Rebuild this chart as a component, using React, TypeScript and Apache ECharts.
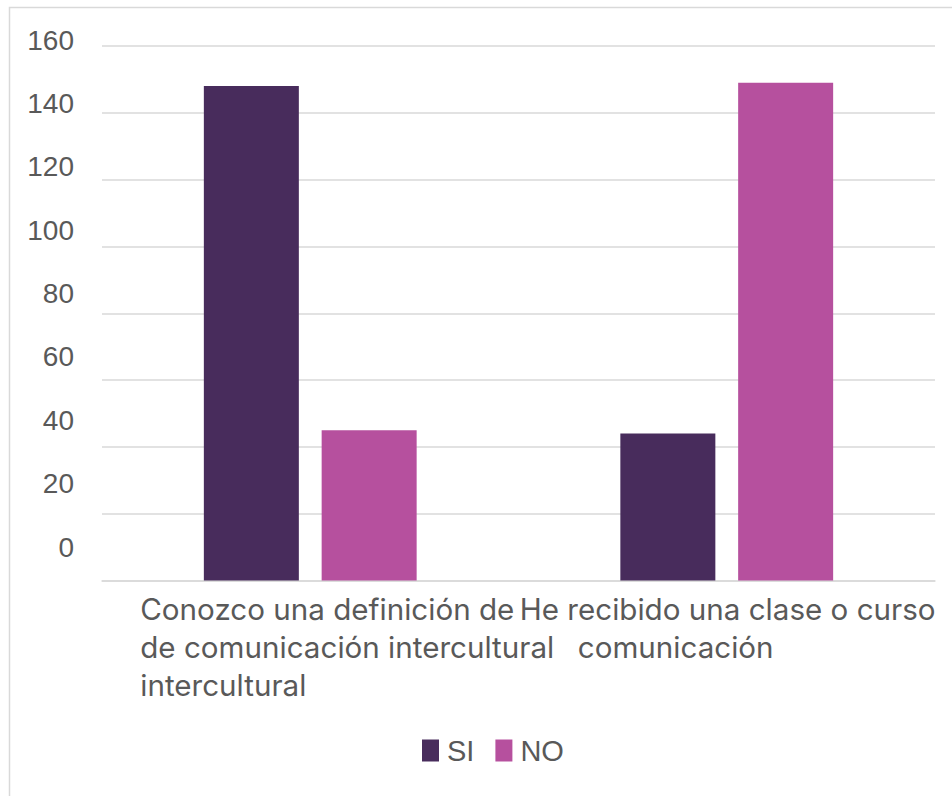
import React, { useEffect, useRef } from "react";
import * as echarts from "echarts";

const categories = ["Conozco una definición de comunicación intercultural", "He recibido una clase o curso de comunicación intercultural"];
const categoryLines: string[][] = [
  ["Conozco una definición de", "de comunicación intercultural", "intercultural"],
  ["He recibido una clase o curso", "comunicación"],
];
const seriesNames = ["SI", "NO"];
const siValues = [148, 44];
const noValues = [45, 149];
const yTicks = { min: 0, max: 160, interval: 20 };

const TEXT = "#595959";
const GRID = "#d9d9d9";
const CAT_FONT = "Inter";
const CAT_SIZE = 29.6;

export default function App() {
  const ref = useRef<HTMLDivElement>(null);
  useEffect(() => {
    if (!ref.current) return;
    const chart = echarts.init(ref.current, null, { renderer: "svg" });
    const tok = (pad: number) => ({
      padding: [0, 0, 0, pad],
      color: TEXT,
      fontSize: CAT_SIZE,
      fontFamily: CAT_FONT,
      lineHeight: 38,
    });
    chart.setOption({
      animation: false,
      backgroundColor: "#ffffff",
      graphic: [
        {
          type: "rect",
          shape: { x: 9.5, y: 7.5, width: 1000, height: 1000 },
          style: { fill: "none", stroke: GRID, lineWidth: 1.5 },
          silent: true,
          z: -1,
        },
      ],
      grid: [
        { left: 102, right: 17, top: 46, bottom: 215.5 },
        { left: 82, right: 17, top: 40, bottom: 249 },
      ],
      legend: {
        data: seriesNames,
        left: 422,
        top: 736,
        padding: 0,
        itemWidth: 17,
        itemHeight: 22,
        itemGap: 21,
        icon: "rect",
        textStyle: { color: TEXT, fontSize: 29, fontFamily: "Liberation Sans", padding: [0, 0, 0, 3] },
      },
      xAxis: [
        {
          type: "category",
          gridIndex: 0,
          data: categories,
          axisLine: { show: true, lineStyle: { color: GRID, width: 1.5 } },
          axisTick: { show: false },
          axisLabel: {
            interval: 0,
            margin: 9,
            align: "left",
            verticalAlign: "top",
            color: TEXT,
            fontSize: CAT_SIZE,
            fontFamily: CAT_FONT,
            lineHeight: 38,
            formatter: (_v: string, idx: number) => {
              const lines = categoryLines[idx];
              if (idx === 0) return lines.map((l) => `{a|${l}}`).join("\n");
              return `{b|${lines[0]}}\n{c|${lines[1]}}`;
            },
            rich: { a: tok(-170), b: tok(-207), c: tok(-149) },
          },
          splitLine: { show: false },
        },
        { type: "category", gridIndex: 1, data: categories, show: false },
      ],
      yAxis: [
        {
          type: "value",
          gridIndex: 0,
          min: yTicks.min,
          max: yTicks.max,
          interval: yTicks.interval,
          axisLabel: { show: false },
          axisLine: { show: false },
          axisTick: { show: false },
          splitLine: { show: true, lineStyle: { color: GRID, width: 1.5 } },
        },
        {
          type: "value",
          gridIndex: 1,
          min: yTicks.min,
          max: yTicks.max,
          interval: yTicks.interval,
          axisLabel: { color: TEXT, fontSize: 28, fontFamily: "Liberation Sans", margin: 8 },
          axisLine: { show: false },
          axisTick: { show: false },
          splitLine: { show: false },
        },
      ],
      series: [
        {
          name: seriesNames[0],
          type: "bar",
          xAxisIndex: 0,
          yAxisIndex: 0,
          data: siValues,
          barWidth: 95,
          barGap: "24%",
          itemStyle: { color: "#482c5c" },
        },
        {
          name: seriesNames[1],
          type: "bar",
          xAxisIndex: 0,
          yAxisIndex: 0,
          data: noValues,
          barWidth: 95,
          barGap: "24%",
          itemStyle: { color: "#b6509e" },
        },
      ],
    });
    return () => chart.dispose();
  }, []);
  return <div ref={ref} style={{ position: "absolute", left: 0, top: 0, width: 952, height: 796 }} />;
}
